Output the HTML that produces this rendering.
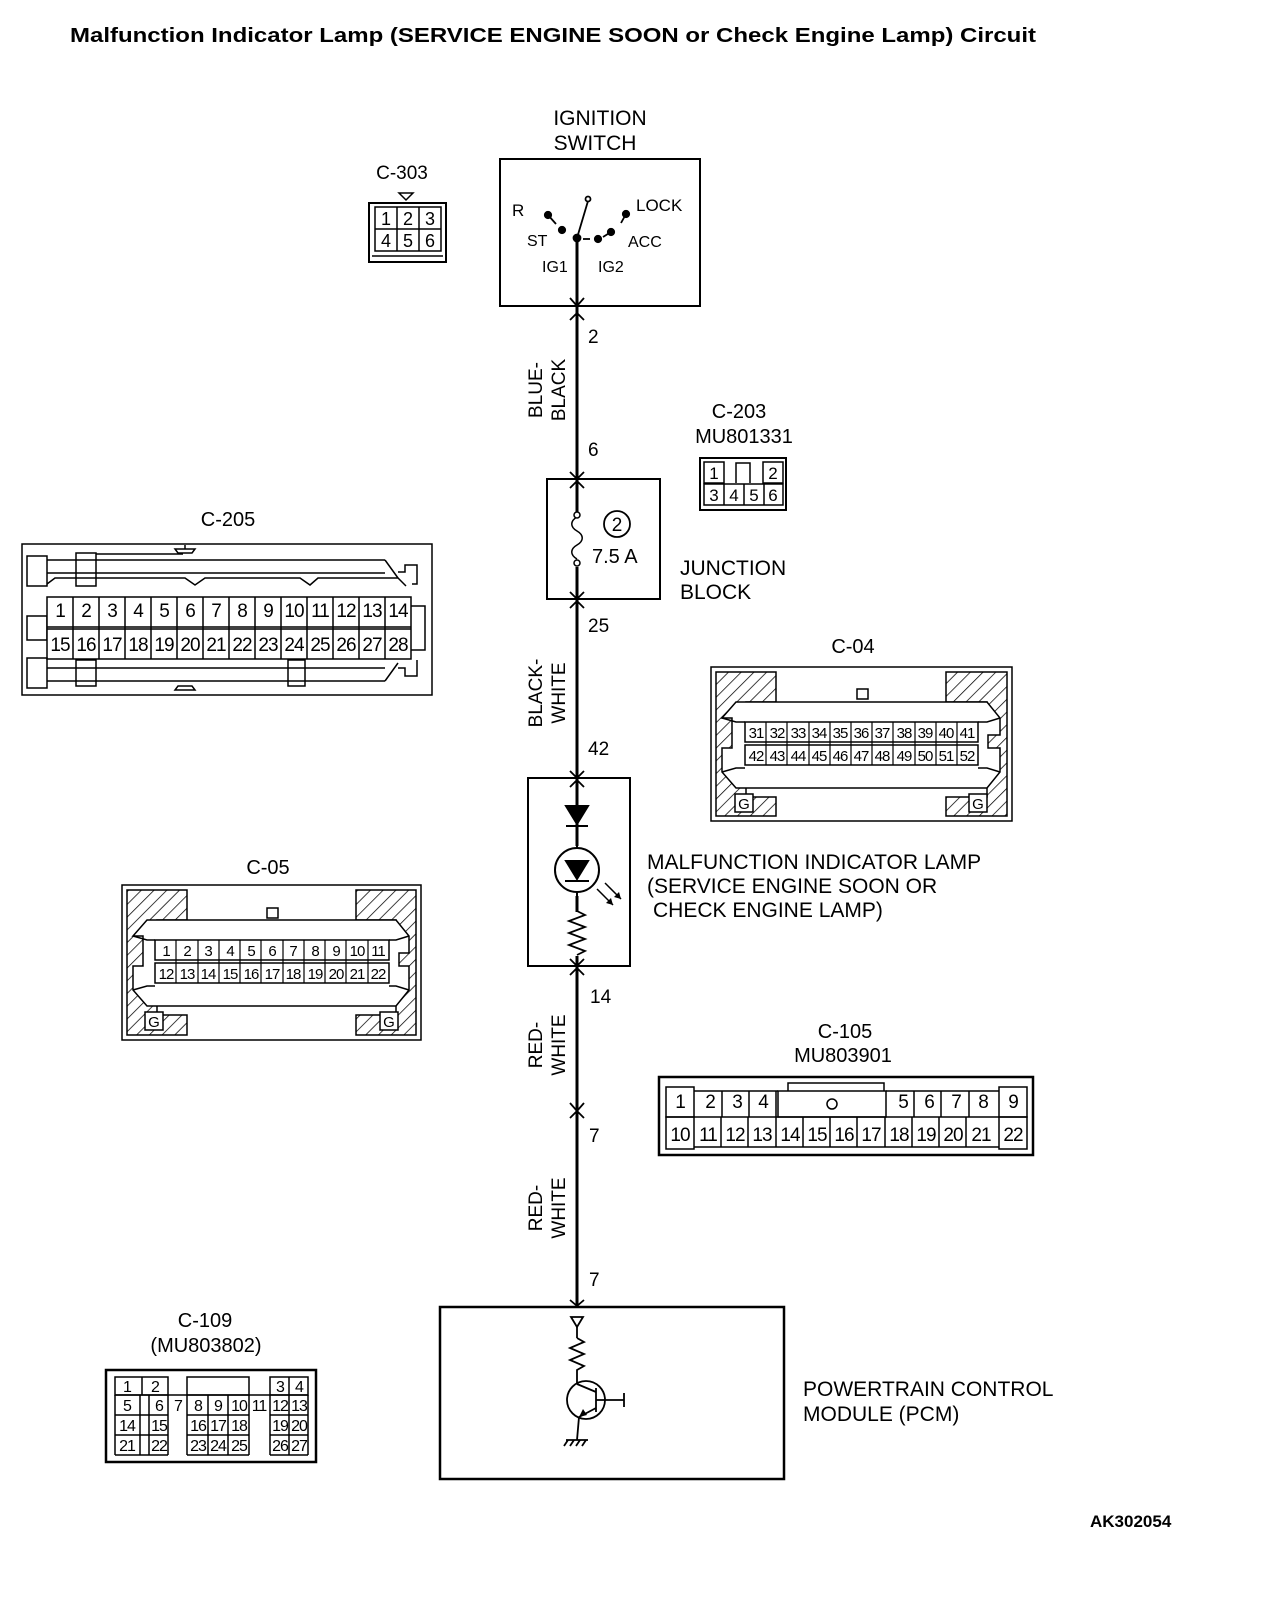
<!DOCTYPE html>
<html><head><meta charset="utf-8"><style>
html,body{margin:0;padding:0;background:#fff}
svg{display:block}
text{font-family:"Liberation Sans",sans-serif;fill:#000}
</style></head><body>
<svg width="1264" height="1606" viewBox="0 0 1264 1606" xmlns="http://www.w3.org/2000/svg">
<defs>
<pattern id="h" width="9" height="9" patternUnits="userSpaceOnUse" patternTransform="rotate(45)">
<rect width="9" height="9" fill="#fff"/><line x1="0" y1="0" x2="0" y2="9" stroke="#000" stroke-width="1.5"/>
</pattern>
</defs>
<text x="70" y="42" font-size="20" font-weight="bold" textLength="966" lengthAdjust="spacingAndGlyphs">Malfunction Indicator Lamp (SERVICE ENGINE SOON or Check Engine Lamp) Circuit</text>

<g stroke="#000" fill="none">
<line x1="577" y1="238" x2="577" y2="1307" stroke-width="3"/>
<g stroke-width="1.8">
<polyline points="570,298 577,306 584,298"/><polyline points="570,320 577,313 584,320"/>
<polyline points="570,472 577,479 584,472"/><polyline points="570,488 577,481 584,488"/>
<polyline points="570,592 577,599 584,592"/><polyline points="570,608 577,601 584,608"/>
<polyline points="570,771 577,778 584,771"/><polyline points="570,787 577,780 584,787"/>
<polyline points="570,959 577,966 584,959"/><polyline points="570,975 577,968 584,975"/>
<polyline points="570,1103 577,1111 584,1103"/><polyline points="570,1118 577,1111 584,1118"/>
<polyline points="570,1300 577,1306 584,1300"/>
</g>
</g>

<text x="600" y="125" font-size="21" text-anchor="middle">IGNITION</text>
<text x="595" y="150" font-size="21" text-anchor="middle">SWITCH</text>
<rect x="500" y="159" width="200" height="147" fill="none" stroke="#000" stroke-width="2"/>
<text x="512" y="216" font-size="17">R</text>
<text x="636" y="211" font-size="17">LOCK</text>
<text x="527" y="246" font-size="16">ST</text>
<text x="628" y="247" font-size="16">ACC</text>
<text x="542" y="272" font-size="16">IG1</text>
<text x="598" y="272" font-size="16">IG2</text>
<g stroke="#000" stroke-width="1.8" fill="#000">
<line x1="577" y1="238" x2="588" y2="201"/>
<circle cx="588" cy="199" r="2.5" fill="#fff"/>
<circle cx="577" cy="238" r="3.5"/>
<circle cx="548" cy="215" r="3.2"/><line x1="548" y1="215" x2="556" y2="224"/>
<circle cx="562" cy="230" r="3.2"/>
<line x1="583" y1="239" x2="590" y2="239"/>
<circle cx="598" cy="239" r="3.2"/>
<circle cx="611" cy="232" r="3.2"/><line x1="611" y1="232" x2="603" y2="237"/>
<circle cx="626" cy="214" r="3.2"/><line x1="626" y1="214" x2="621" y2="223"/>
</g>

<text x="588" y="343" font-size="19">2</text>
<text transform="translate(542,390) rotate(-90)" font-size="19" text-anchor="middle">BLUE-</text>
<text transform="translate(565,390) rotate(-90)" font-size="19" text-anchor="middle">BLACK</text>
<text x="588" y="456" font-size="19">6</text>

<rect x="547" y="479" width="113" height="120" fill="none" stroke="#000" stroke-width="2"/>
<rect x="572" y="512" width="10" height="55" fill="#fff"/>
<path d="M577,517 c-7,4 -7,10 0,14 c7,4 7,10 0,14 c-7,4 -7,10 0,14" fill="none" stroke="#000" stroke-width="1.5"/>
<circle cx="577" cy="515" r="3" fill="#fff" stroke="#000" stroke-width="1.5"/>
<circle cx="577" cy="563" r="3" fill="#fff" stroke="#000" stroke-width="1.5"/>
<circle cx="617" cy="524" r="13" fill="none" stroke="#000" stroke-width="1.8"/>
<text x="617" y="531" font-size="19" text-anchor="middle">2</text>
<text x="592" y="563" font-size="20">7.5 A</text>
<text x="680" y="575" font-size="21">JUNCTION</text>
<text x="680" y="599" font-size="21">BLOCK</text>

<text x="588" y="632" font-size="19">25</text>
<text transform="translate(542,693) rotate(-90)" font-size="19" text-anchor="middle">BLACK-</text>
<text transform="translate(565,693) rotate(-90)" font-size="19" text-anchor="middle">WHITE</text>
<text x="588" y="755" font-size="19">42</text>

<rect x="528" y="778" width="102" height="188" fill="none" stroke="#000" stroke-width="2"/>
<g stroke="#000" stroke-width="2">
<polygon points="566,806 588,806 577,824" fill="#000"/>
<line x1="566" y1="826" x2="588" y2="826"/>
<rect x="572" y="846" width="10" height="50" fill="#fff" stroke="none"/>
<line x1="577" y1="846" x2="577" y2="904"/>
<circle cx="577" cy="870" r="22" fill="#fff"/>
<polygon points="566,861 588,861 577,879" fill="#000"/>
<line x1="565" y1="881" x2="589" y2="881"/>
<rect x="570" y="912" width="14" height="44" fill="#fff" stroke="none"/>
<polyline points="577,911 585,915 569,921 585,927 569,933 585,939 569,945 585,951 577,955" fill="none" stroke-width="1.8"/>
<line x1="597" y1="889" x2="613" y2="905" stroke-width="1.5"/>
<line x1="605" y1="883" x2="621" y2="899" stroke-width="1.5"/>
</g>
<polygon points="613,905 606,903 611,898" fill="#000"/>
<polygon points="621,899 614,897 619,892" fill="#000"/>
<text x="647" y="869" font-size="21">MALFUNCTION INDICATOR LAMP</text>
<text x="647" y="893" font-size="21">(SERVICE ENGINE SOON OR</text>
<text x="653" y="917" font-size="21">CHECK ENGINE LAMP)</text>

<text x="590" y="1003" font-size="19">14</text>
<text transform="translate(542,1045) rotate(-90)" font-size="19" text-anchor="middle">RED-</text>
<text transform="translate(565,1045) rotate(-90)" font-size="19" text-anchor="middle">WHITE</text>
<text x="589" y="1142" font-size="19">7</text>
<text transform="translate(542,1208) rotate(-90)" font-size="19" text-anchor="middle">RED-</text>
<text transform="translate(565,1208) rotate(-90)" font-size="19" text-anchor="middle">WHITE</text>
<text x="589" y="1286" font-size="19">7</text>

<rect x="440" y="1307" width="344" height="172" fill="none" stroke="#000" stroke-width="2.5"/>
<g stroke="#000" stroke-width="1.8" fill="none">
<polygon points="571,1317 583,1317 577,1327"/>
<line x1="577" y1="1327" x2="577" y2="1338"/>
<polyline points="577,1338 584,1342 570,1348 584,1354 570,1360 584,1366 577,1370 577,1384"/>
<circle cx="586" cy="1400" r="19"/>
<line x1="577" y1="1384" x2="596" y2="1392"/>
<line x1="596" y1="1388" x2="596" y2="1412"/>
<line x1="596" y1="1400" x2="624" y2="1400"/>
<line x1="624" y1="1393" x2="624" y2="1407"/>
<line x1="596" y1="1408" x2="579" y2="1417"/>
<line x1="579" y1="1417" x2="577" y2="1440"/>
<line x1="566" y1="1440" x2="588" y2="1440"/>
<line x1="568" y1="1440" x2="564" y2="1446"/><line x1="574" y1="1440" x2="570" y2="1446"/><line x1="580" y1="1440" x2="576" y2="1446"/><line x1="586" y1="1440" x2="582" y2="1446"/>
</g>
<polygon points="579,1417 583,1409 587,1415" fill="#000"/>
<text x="803" y="1396" font-size="21">POWERTRAIN CONTROL</text>
<text x="803" y="1421" font-size="21">MODULE (PCM)</text>
<text x="1090" y="1527" font-size="17" font-weight="bold">AK302054</text>

<text x="402" y="179" font-size="19" text-anchor="middle">C-303</text>
<polygon points="399,193 413,193 406,200" fill="none" stroke="#000" stroke-width="1.5"/>
<g stroke="#000" fill="none" stroke-width="1.5">
<rect x="369" y="203" width="77" height="59" stroke-width="2"/>
<rect x="375" y="207" width="66" height="44"/>
<line x1="375" y1="229" x2="441" y2="229"/>
<line x1="397" y1="207" x2="397" y2="251"/><line x1="419" y1="207" x2="419" y2="251"/>
<line x1="372" y1="256" x2="443" y2="256"/>
</g>
<g font-size="18" text-anchor="middle">
<text x="386" y="225">1</text><text x="408" y="225">2</text><text x="430" y="225">3</text>
<text x="386" y="247">4</text><text x="408" y="247">5</text><text x="430" y="247">6</text>
</g>

<text x="739" y="418" font-size="20" text-anchor="middle">C-203</text>
<text x="744" y="443" font-size="20" text-anchor="middle">MU801331</text>
<g stroke="#000" fill="none" stroke-width="1.5">
<rect x="700" y="458" width="86" height="52" stroke-width="2"/>
<rect x="704" y="462" width="20" height="21"/>
<rect x="763" y="462" width="20" height="21"/>
<polyline points="736,483 736,463 750,463 750,483"/>
<rect x="704" y="484" width="79" height="21"/>
<line x1="724" y1="484" x2="724" y2="505"/><line x1="744" y1="484" x2="744" y2="505"/><line x1="764" y1="484" x2="764" y2="505"/>
</g>
<g font-size="17" text-anchor="middle">
<text x="714" y="479">1</text><text x="773" y="479">2</text>
<text x="714" y="501">3</text><text x="734" y="501">4</text><text x="754" y="501">5</text><text x="773" y="501">6</text>
</g>

<text x="228" y="526" font-size="20" text-anchor="middle">C-205</text>
<g stroke="#000" fill="none" stroke-width="1.5">
<rect x="22" y="544" width="410" height="151"/>
<rect x="27" y="556" width="20" height="30"/>
<rect x="76" y="553" width="20" height="33"/>
<line x1="47" y1="560" x2="385" y2="560"/>
<line x1="47" y1="573" x2="385" y2="573"/>
<line x1="96" y1="554" x2="183" y2="554"/>
<polyline points="47,584 55,578 185,578 195,585 205,578 300,578 310,585 318,578 398,578 406,586"/>
<polyline points="385,560 398,578"/>
<polyline points="398,572 405,572 405,565 417,565 417,584 412,584"/>
<path d="M178,553 h14 l3,-4 h-20 z M185,549 v-4"/>
<rect x="27" y="616" width="20" height="24"/>
<polyline points="411,606 425,606 425,650 411,650"/>
<rect x="47" y="597" width="364" height="62" fill="#fff"/>
<line x1="47" y1="627" x2="411" y2="627"/><line x1="47" y1="629" x2="411" y2="629"/>
<line x1="47" y1="668" x2="385" y2="668"/>
<line x1="47" y1="681" x2="385" y2="681"/>
<rect x="27" y="658" width="20" height="30"/>
<rect x="76" y="660" width="20" height="26"/>
<rect x="288" y="660" width="17" height="26"/>
<path d="M178,686 h14 l3,4 h-20 z"/>
<polyline points="385,681 398,663"/>
<polyline points="398,668 405,668 405,676 417,676 417,660"/>
</g>
<g stroke="#000" stroke-width="1.5">
<line x1="73" y1="597" x2="73" y2="659"/><line x1="99" y1="597" x2="99" y2="659"/><line x1="125" y1="597" x2="125" y2="659"/><line x1="151" y1="597" x2="151" y2="659"/><line x1="177" y1="597" x2="177" y2="659"/><line x1="203" y1="597" x2="203" y2="659"/><line x1="229" y1="597" x2="229" y2="659"/><line x1="255" y1="597" x2="255" y2="659"/><line x1="281" y1="597" x2="281" y2="659"/><line x1="307" y1="597" x2="307" y2="659"/><line x1="333" y1="597" x2="333" y2="659"/><line x1="359" y1="597" x2="359" y2="659"/><line x1="385" y1="597" x2="385" y2="659"/>
</g>
<g font-size="19" text-anchor="middle" letter-spacing="-1">
<text x="60" y="617">1</text><text x="86" y="617">2</text><text x="112" y="617">3</text><text x="138" y="617">4</text><text x="164" y="617">5</text><text x="190" y="617">6</text><text x="216" y="617">7</text><text x="242" y="617">8</text><text x="268" y="617">9</text><text x="294" y="617">10</text><text x="320" y="617">11</text><text x="346" y="617">12</text><text x="372" y="617">13</text><text x="398" y="617">14</text>
<text x="60" y="651">15</text><text x="86" y="651">16</text><text x="112" y="651">17</text><text x="138" y="651">18</text><text x="164" y="651">19</text><text x="190" y="651">20</text><text x="216" y="651">21</text><text x="242" y="651">22</text><text x="268" y="651">23</text><text x="294" y="651">24</text><text x="320" y="651">25</text><text x="346" y="651">26</text><text x="372" y="651">27</text><text x="398" y="651">28</text>
</g>

<text x="853" y="653" font-size="20" text-anchor="middle">C-04</text>
<g stroke="#000" stroke-width="1.5">
<rect x="711" y="667" width="301" height="154" fill="none"/>
<path d="M716,672 h60 v30 h-30 v95 h30 v19 h-60 z" fill="url(#h)"/>
<path d="M1007,672 h-61 v30 h41 v95 h-41 v19 h61 z" fill="url(#h)"/>
<path d="M736,702 L987,702 L1000,718 V735 L988,735 V748 L1000,748 V772 L987,788 L736,788 L722,772 V748 L732,748 V718 L722,718 Z" fill="#fff"/>
<rect x="857" y="689" width="11" height="10" fill="#fff"/>
<polyline points="722,718 736,722 745,722" fill="none"/>
<polyline points="1000,718 987,722 978,722" fill="none"/>
<polyline points="722,772 736,768 745,768" fill="none"/>
<polyline points="1000,772 987,768 978,768" fill="none"/>
<rect x="745" y="722" width="233" height="20" fill="#fff"/>
<rect x="745" y="745" width="233" height="20" fill="#fff"/>
<rect x="735" y="794" width="18" height="18" fill="#fff"/>
<rect x="969" y="794" width="18" height="18" fill="#fff"/>
</g>
<g stroke="#000" stroke-width="1.2">
<line x1="766" y1="722" x2="766" y2="765"/><line x1="787" y1="722" x2="787" y2="765"/><line x1="809" y1="722" x2="809" y2="765"/><line x1="830" y1="722" x2="830" y2="765"/><line x1="851" y1="722" x2="851" y2="765"/><line x1="872" y1="722" x2="872" y2="765"/><line x1="893" y1="722" x2="893" y2="765"/><line x1="915" y1="722" x2="915" y2="765"/><line x1="936" y1="722" x2="936" y2="765"/><line x1="957" y1="722" x2="957" y2="765"/>
</g>
<g font-size="15" text-anchor="middle" letter-spacing="-1">
<text x="756" y="738">31</text><text x="777" y="738">32</text><text x="798" y="738">33</text><text x="819" y="738">34</text><text x="840" y="738">35</text><text x="861" y="738">36</text><text x="882" y="738">37</text><text x="904" y="738">38</text><text x="925" y="738">39</text><text x="946" y="738">40</text><text x="967" y="738">41</text>
<text x="756" y="761">42</text><text x="777" y="761">43</text><text x="798" y="761">44</text><text x="819" y="761">45</text><text x="840" y="761">46</text><text x="861" y="761">47</text><text x="882" y="761">48</text><text x="904" y="761">49</text><text x="925" y="761">50</text><text x="946" y="761">51</text><text x="967" y="761">52</text>
</g>
<text x="744" y="809" font-size="15" text-anchor="middle">G</text>
<text x="978" y="809" font-size="15" text-anchor="middle">G</text>

<text x="268" y="874" font-size="20" text-anchor="middle">C-05</text>
<g stroke="#000" stroke-width="1.5">
<rect x="122" y="885" width="299" height="155" fill="none"/>
<path d="M127,890 h60 v30 h-30 v95 h30 v20 h-60 z" fill="url(#h)"/>
<path d="M416,890 h-60 v30 h40 v95 h-40 v20 h60 z" fill="url(#h)"/>
<path d="M147,920 L396,920 L409,936 V953 L399,953 V966 L409,966 V990 L396,1006 L147,1006 L133,990 V966 L143,966 V936 L133,936 Z" fill="#fff"/>
<rect x="267" y="908" width="11" height="10" fill="#fff"/>
<polyline points="133,936 147,940 155,940" fill="none"/>
<polyline points="409,936 396,940 389,940" fill="none"/>
<polyline points="133,990 147,986 155,986" fill="none"/>
<polyline points="409,990 396,986 389,986" fill="none"/>
<rect x="155" y="940" width="234" height="20" fill="#fff"/>
<rect x="155" y="963" width="234" height="20" fill="#fff"/>
<rect x="145" y="1012" width="18" height="18" fill="#fff"/>
<rect x="380" y="1012" width="18" height="18" fill="#fff"/>
</g>
<g stroke="#000" stroke-width="1.2">
<line x1="176" y1="940" x2="176" y2="983"/><line x1="198" y1="940" x2="198" y2="983"/><line x1="219" y1="940" x2="219" y2="983"/><line x1="240" y1="940" x2="240" y2="983"/><line x1="261" y1="940" x2="261" y2="983"/><line x1="283" y1="940" x2="283" y2="983"/><line x1="304" y1="940" x2="304" y2="983"/><line x1="325" y1="940" x2="325" y2="983"/><line x1="346" y1="940" x2="346" y2="983"/><line x1="368" y1="940" x2="368" y2="983"/>
</g>
<g font-size="15" text-anchor="middle" letter-spacing="-1">
<text x="166" y="956">1</text><text x="187" y="956">2</text><text x="208" y="956">3</text><text x="230" y="956">4</text><text x="251" y="956">5</text><text x="272" y="956">6</text><text x="293" y="956">7</text><text x="315" y="956">8</text><text x="336" y="956">9</text><text x="357" y="956">10</text><text x="378" y="956">11</text>
<text x="166" y="979">12</text><text x="187" y="979">13</text><text x="208" y="979">14</text><text x="230" y="979">15</text><text x="251" y="979">16</text><text x="272" y="979">17</text><text x="293" y="979">18</text><text x="315" y="979">19</text><text x="336" y="979">20</text><text x="357" y="979">21</text><text x="378" y="979">22</text>
</g>
<text x="154" y="1027" font-size="15" text-anchor="middle">G</text>
<text x="389" y="1027" font-size="15" text-anchor="middle">G</text>

<text x="845" y="1038" font-size="20" text-anchor="middle">C-105</text>
<text x="843" y="1062" font-size="20" text-anchor="middle">MU803901</text>
<g stroke="#000" stroke-width="1.5" fill="none">
<rect x="659" y="1077" width="374" height="78" stroke-width="2.5"/>
<rect x="666" y="1087" width="28" height="30"/><rect x="666" y="1117" width="28" height="32"/>
<rect x="999" y="1087" width="28" height="30"/><rect x="999" y="1117" width="28" height="32"/>
<polyline points="694,1091 778,1091"/>
<rect x="778" y="1091" width="108" height="26"/>
<polyline points="788,1091 788,1083 884,1083 884,1091"/>
<polyline points="886,1091 999,1091"/>
<line x1="694" y1="1117" x2="999" y2="1117"/>
<line x1="694" y1="1147" x2="999" y2="1147"/>
<line x1="722" y1="1091" x2="722" y2="1117"/><line x1="749" y1="1091" x2="749" y2="1117"/><line x1="776" y1="1091" x2="776" y2="1117"/>
<line x1="914" y1="1091" x2="914" y2="1117"/><line x1="941" y1="1091" x2="941" y2="1117"/><line x1="969" y1="1091" x2="969" y2="1117"/>
<line x1="721" y1="1117" x2="721" y2="1147"/><line x1="748" y1="1117" x2="748" y2="1147"/><line x1="776" y1="1117" x2="776" y2="1147"/><line x1="803" y1="1117" x2="803" y2="1147"/><line x1="830" y1="1117" x2="830" y2="1147"/><line x1="857" y1="1117" x2="857" y2="1147"/><line x1="885" y1="1117" x2="885" y2="1147"/><line x1="912" y1="1117" x2="912" y2="1147"/><line x1="939" y1="1117" x2="939" y2="1147"/><line x1="966" y1="1117" x2="966" y2="1147"/>
<circle cx="832" cy="1104" r="5"/>
</g>
<g font-size="19" text-anchor="middle" letter-spacing="-1">
<text x="680" y="1108">1</text><text x="710" y="1108">2</text><text x="737" y="1108">3</text><text x="763" y="1108">4</text>
<text x="903" y="1108">5</text><text x="929" y="1108">6</text><text x="956" y="1108">7</text><text x="983" y="1108">8</text><text x="1013" y="1108">9</text>
<text x="680" y="1141">10</text><text x="708" y="1141">11</text><text x="735" y="1141">12</text><text x="762" y="1141">13</text><text x="790" y="1141">14</text><text x="817" y="1141">15</text><text x="844" y="1141">16</text><text x="871" y="1141">17</text><text x="899" y="1141">18</text><text x="926" y="1141">19</text><text x="953" y="1141">20</text><text x="981" y="1141">21</text><text x="1013" y="1141">22</text>
</g>

<text x="205" y="1327" font-size="20" text-anchor="middle">C-109</text>
<text x="206" y="1352" font-size="20" text-anchor="middle">(MU803802)</text>
<g stroke="#000" stroke-width="1.5" fill="none">
<rect x="106" y="1370" width="210" height="92" stroke-width="2.5"/>
<rect x="115" y="1377" width="53" height="18"/><line x1="142" y1="1377" x2="142" y2="1395"/>
<rect x="187" y="1377" width="62" height="18"/>
<rect x="270" y="1377" width="38" height="18"/><line x1="289" y1="1377" x2="289" y2="1395"/>
<line x1="115" y1="1395" x2="308" y2="1395"/>
<line x1="115" y1="1415" x2="168" y2="1415"/><line x1="187" y1="1415" x2="249" y2="1415"/><line x1="270" y1="1415" x2="308" y2="1415"/>
<line x1="115" y1="1435" x2="168" y2="1435"/><line x1="187" y1="1435" x2="249" y2="1435"/><line x1="270" y1="1435" x2="308" y2="1435"/>
<line x1="115" y1="1455" x2="168" y2="1455"/><line x1="187" y1="1455" x2="249" y2="1455"/><line x1="270" y1="1455" x2="308" y2="1455"/>
<line x1="115" y1="1395" x2="115" y2="1455"/><line x1="140" y1="1395" x2="140" y2="1455"/>
<line x1="149" y1="1395" x2="149" y2="1455"/><line x1="168" y1="1395" x2="168" y2="1455"/>
<line x1="187" y1="1395" x2="187" y2="1455"/><line x1="208" y1="1395" x2="208" y2="1455"/><line x1="228" y1="1395" x2="228" y2="1455"/><line x1="249" y1="1395" x2="249" y2="1455"/>
<line x1="270" y1="1395" x2="270" y2="1455"/><line x1="289" y1="1395" x2="289" y2="1455"/><line x1="308" y1="1395" x2="308" y2="1455"/>
</g>
<g font-size="16" text-anchor="middle" letter-spacing="-1">
<text x="127" y="1392">1</text><text x="155" y="1392">2</text><text x="280" y="1392">3</text><text x="299" y="1392">4</text>
<text x="127" y="1411">5</text><text x="159" y="1411">6</text><text x="178" y="1411">7</text><text x="198" y="1411">8</text><text x="218" y="1411">9</text><text x="239" y="1411">10</text><text x="259" y="1411">11</text><text x="280" y="1411">12</text><text x="299" y="1411">13</text>
<text x="127" y="1431">14</text><text x="159" y="1431">15</text><text x="198" y="1431">16</text><text x="218" y="1431">17</text><text x="239" y="1431">18</text><text x="280" y="1431">19</text><text x="299" y="1431">20</text>
<text x="127" y="1451">21</text><text x="159" y="1451">22</text><text x="198" y="1451">23</text><text x="218" y="1451">24</text><text x="239" y="1451">25</text><text x="280" y="1451">26</text><text x="299" y="1451">27</text>
</g>
</svg>
</body></html>
